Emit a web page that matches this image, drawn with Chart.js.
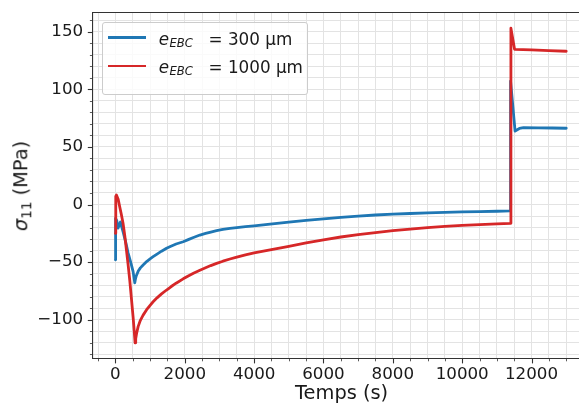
<!DOCTYPE html>
<html><head><meta charset="utf-8">
<script src="https://cdn.jsdelivr.net/npm/chart.js@4"></script>
<style>
html,body{margin:0;padding:0;overflow:hidden;background:#fff;width:579px;height:404px;}
#wrap{position:absolute;left:0;top:0;width:592px;height:404px;}
#legend{position:absolute;left:101.5px;top:22px;width:206px;height:72.5px;border:1px solid #cccccc;border-radius:3px;background:rgba(255,255,255,0.8);box-sizing:border-box;font-family:'DejaVu Sans';color:#1a1a1a;}
.sw{position:absolute;left:5.2px;width:38px;height:2.8px;}
.t{position:absolute;white-space:nowrap;font-size:16.8px;line-height:16.8px;}
.s{position:absolute;white-space:nowrap;font-size:11.6px;line-height:11.6px;font-style:italic;}
#ylab{position:absolute;left:22px;top:185.5px;transform:translate(-50%,-50%) rotate(-90deg);font-family:'DejaVu Sans';font-size:19.4px;line-height:19.4px;white-space:nowrap;color:#1a1a1a;}
#ylab .sub{font-size:13.6px;position:relative;top:4px;}
</style>
</head><body>
<div id="wrap"><canvas id="c" width="592" height="404"></canvas></div>
<div id="legend">
  <div class="sw" style="top:13.3px;background:#1f77b4"></div>
  <span class="t" style="left:56.3px;top:7.8px;font-style:italic">e</span>
  <span class="s" style="left:67px;top:14.9px">EBC</span>
  <span class="t" style="left:106px;top:7.8px">= 300 µm</span>
  <div class="sw" style="top:41.6px;background:#d62728"></div>
  <span class="t" style="left:56.3px;top:36.1px;font-style:italic">e</span>
  <span class="s" style="left:67px;top:43.2px">EBC</span>
  <span class="t" style="left:106px;top:36.1px">= 1000 µm</span>
</div>
<div id="ylab"><i>σ</i><span class="sub">11</span> (MPa)</div>
<script>
// ---- data ----
const tBlue = [0, 5, 40, 75, 144, 220, 300, 365, 440, 509, 558, 575, 600, 630, 655, 720, 799, 900, 1000, 1087, 1200, 1330, 1474, 1600, 1750, 1954, 2100, 2250, 2436, 2600, 2750, 2918, 3100, 3303, 3500, 3750, 4000, 4460, 5000, 5500, 6000, 6500, 7000, 7500, 8000, 8500, 9000, 9500, 10000, 10500, 11000, 11380, 11395, 11525, 11650, 11770, 12200, 12600, 13000];
const sigmaBlue = [-48, -12, -14, -20.5, -15.2, -23.6, -33, -42, -50, -58, -68, -65, -62, -59.8, -58, -55, -52.5, -49.5, -47.2, -45.3, -43, -40.5, -38, -36.2, -34.3, -32.3, -30.5, -28.6, -26.5, -25.1, -23.9, -22.7, -21.6, -20.7, -20, -19.2, -18.5, -17.1, -15.3, -13.8, -12.4, -11.1, -10, -9.1, -8.4, -7.8, -7.2, -6.8, -6.4, -6.1, -5.85, -5.6, 107, 63.8, 66, 66.8, 66.6, 66.4, 66.2];
const tRed = [0, 10, 29, 80, 124, 170, 220, 270, 318, 365, 413, 460, 509, 540, 567, 585, 610, 655, 720, 799, 900, 1000, 1087, 1200, 1330, 1474, 1600, 1750, 1954, 2100, 2250, 2436, 2600, 2750, 2918, 3100, 3303, 3500, 3750, 4000, 4460, 5000, 5500, 6000, 6500, 7000, 7500, 8000, 8500, 9000, 9500, 10000, 10500, 11000, 11390, 11405, 11510, 12000, 12500, 13000];
const sigmaRed = [-25, 7, 8.2, 4.5, -1.9, -8.5, -16.3, -27, -39.5, -52, -65.5, -81, -97.4, -109, -120, -116.5, -112, -106, -100.5, -96, -91.3, -87.5, -84.4, -81, -77.6, -74.2, -71.4, -68.3, -64.5, -62, -59.6, -57, -54.9, -53, -51.1, -49.2, -47.3, -45.6, -43.7, -42, -39.3, -36.3, -33.3, -30.6, -28.2, -26.1, -24.4, -22.7, -21.3, -20.1, -19, -18.1, -17.4, -16.8, -16.3, 153, 134.7, 134.2, 133.6, 133];
const seriesNames = ['e_EBC = 300 µm', 'e_EBC = 1000 µm'];
const xMajorStep = 2000, xMinorStep = 500;
const yMajorStep = 50, yMinorStep = 10;
const xTitle = 'Temps (s)';

const FONT = 'DejaVu Sans';
const INK = '#1a1a1a';
const SPINE = '#333333';
const X_MIN = -655, X_MAX = 13700, Y_MIN = -133.65, Y_MAX = 166.65;
const fmt = v => v < 0 ? '\u2212' + Math.abs(v) : String(v);
const stepValues = (lo, hi, step) => {
  const out = [];
  for (let k = Math.ceil(lo / step); k * step <= hi; k++) out.push(k * step);
  return out;
};

const framePlugin = {
  id: 'frame',
  afterDraw(chart) {
    const {ctx, chartArea: a, scales: {x, y}} = chart;
    ctx.save();
    ctx.strokeStyle = SPINE;
    ctx.lineWidth = 1.1;
    ctx.beginPath();
    ctx.moveTo(a.left, a.top); ctx.lineTo(a.right, a.top);
    ctx.stroke();
    stepValues(X_MIN, X_MAX, xMinorStep).forEach(v => {
      const px = Math.round(x.getPixelForValue(v)) + 0.5;
      const major = v % xMajorStep === 0;
      ctx.lineWidth = major ? 1.1 : 0.8;
      ctx.beginPath();
      ctx.moveTo(px, a.bottom); ctx.lineTo(px, a.bottom + (major ? 4.9 : 2.8));
      ctx.stroke();
    });
    stepValues(Y_MIN, Y_MAX, yMinorStep).forEach(v => {
      const py = Math.round(y.getPixelForValue(v)) + 0.5;
      const major = v % yMajorStep === 0;
      ctx.lineWidth = major ? 1.1 : 0.8;
      ctx.beginPath();
      ctx.moveTo(a.left, py); ctx.lineTo(a.left - (major ? 4.9 : 2.8), py);
      ctx.stroke();
    });
    ctx.restore();
  }
};

new Chart(document.getElementById('c').getContext('2d'), {
  type: 'line',
  data: {
    datasets: [
      {label: seriesNames[1], data: tRed.map((t, i) => ({x: t, y: sigmaRed[i]})), borderColor: '#d62728', borderWidth: 2.8, pointRadius: 0, tension: 0, fill: false, order: 0, borderJoinStyle: 'round', borderCapStyle: 'round'},
      {label: seriesNames[0], data: tBlue.map((t, i) => ({x: t, y: sigmaBlue[i]})), borderColor: '#1f77b4', borderWidth: 2.8, pointRadius: 0, tension: 0, fill: false, order: 1, borderJoinStyle: 'round', borderCapStyle: 'round'}
    ]
  },
  options: {
    responsive: false, animation: false, devicePixelRatio: 1,
    layout: {padding: {top: 12.5, right: 1.5, left: 0, bottom: 0}},
    plugins: {legend: {display: false}, tooltip: {enabled: false}},
    scales: {
      x: {
        type: 'linear', min: X_MIN, max: X_MAX,
        afterBuildTicks: s => { s.ticks = stepValues(X_MIN, X_MAX, xMinorStep).map(v => ({value: v})); },
        afterFit: s => { s.height = 45.5; s.paddingLeft = 0; s.paddingRight = 0; },
        ticks: {autoSkip: false, maxRotation: 0, minRotation: 0, padding: 6,
          font: {family: FONT, size: 16.7}, color: INK,
          callback: v => (Math.round(v) % xMajorStep === 0 ? fmt(Math.round(v)) : '')},
        grid: {color: '#e3e3e3', lineWidth: 1, drawTicks: false},
        border: {display: true, color: SPINE, width: 1.1},
        title: {display: true, text: xTitle, font: {family: FONT, size: 19.4}, color: INK, padding: {top: 0, bottom: -1.5}}
      },
      y: {
        type: 'linear', min: Y_MIN, max: Y_MAX,
        afterBuildTicks: s => { s.ticks = stepValues(Y_MIN, Y_MAX, yMinorStep).map(v => ({value: v})); },
        afterFit: s => { s.width = 92.7; s.paddingTop = 0; s.paddingBottom = 0; },
        ticks: {autoSkip: false, padding: 9.5,
          font: {family: FONT, size: 16.7}, color: INK,
          callback: v => (Math.round(v) % yMajorStep === 0 ? fmt(Math.round(v)) : '')},
        grid: {color: '#e3e3e3', lineWidth: 1, drawTicks: false},
        border: {display: true, color: SPINE, width: 1.1}
      }
    }
  },
  plugins: [framePlugin]
});
</script>
</body></html>
